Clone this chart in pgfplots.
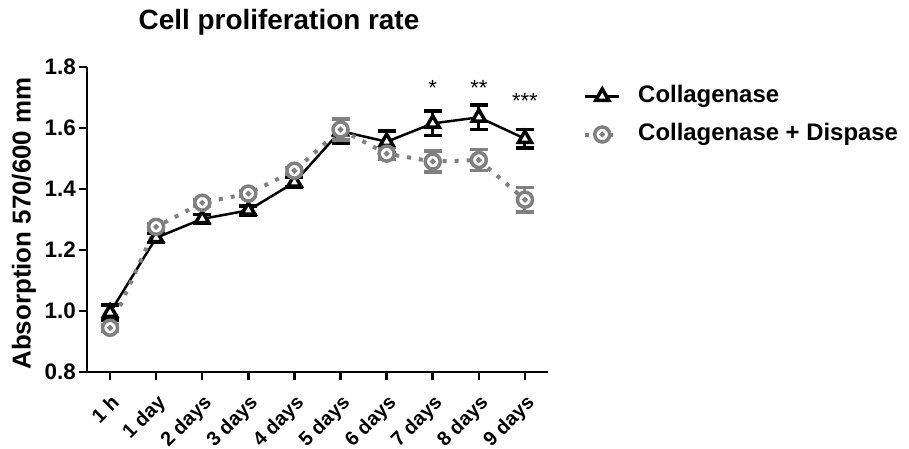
\documentclass[border=0pt]{standalone}
\usepackage{fontspec}
\setmainfont{Liberation Sans}
\usepackage{pgfplots}
\usepackage{pgfplotstable}
\pgfplotsset{compat=1.18}
\definecolor{cdgray}{RGB}{128,128,128}

\pgfdeclareplotmark{ringdot}{%
  \pgfpathcircle{\pgfpointorigin}{\pgfplotmarksize}%
  \pgfusepathqfillstroke
  \pgfpathcircle{\pgfpointorigin}{0.7bp}%
  \pgfusepathqstroke
}

\pgfplotstableread{
x y e
0 0.995 0.025
1 1.240 0.015
2 1.302 0.015
3 1.330 0.015
4 1.422 0.015
5 1.590 0.040
6 1.555 0.035
7 1.615 0.040
8 1.635 0.040
9 1.565 0.030
}\collag

\pgfplotstableread{
x y e
0 0.945 0.010
1 1.276 0.010
2 1.355 0.010
3 1.385 0.010
4 1.460 0.010
5 1.595 0.035
6 1.516 0.020
7 1.490 0.035
8 1.495 0.035
9 1.365 0.040
}\dispase

\pgfplotstableread{
x y lab
7 1.705 *
8 1.708 **
9 1.665 ***
}\stars

\begin{document}
\begin{tikzpicture}
\useasboundingbox (0,0) rectangle (909bp,-449bp);
\node[font=\fontsize{28}{32}\selectfont\bfseries] at (279bp,-22bp) {Cell proliferation rate};
\begin{axis}[
  at={(87bp,-372bp)}, anchor=south west,
  scale only axis, width=461bp, height=305bp,
  xmin=-0.5, xmax=9.5, ymin=0.8, ymax=1.8,
  clip=false,
  axis x line*=bottom, axis y line*=left,
  axis line style={line width=2.5bp, -},
  tick style={line width=2.5bp, black},
  major tick length=8bp, tick align=outside,
  xtick={0,...,9},
  xticklabels={1 h,1 day,2 days,3 days,4 days,5 days,6 days,7 days,8 days,9 days},
  xticklabel style={yshift=-12bp, rotate=45, anchor=north east, font=\fontsize{20}{23}\selectfont\bfseries, inner sep=1bp},
  ytick={0.8,1.0,1.2,1.4,1.6,1.8},
  yticklabel style={font=\fontsize{22.5}{26}\selectfont\bfseries, inner sep=2bp, xshift=-1bp},
  /pgf/number format/assume math mode=true,
  /pgf/number format/.cd, fixed, fixed zerofill, precision=1, /pgfplots/.cd,
  ylabel={Absorption 570/600 mm},
  ylabel style={at={(axis description cs:-0.137,0.487)}, anchor=center, font=\fontsize{26}{30}\selectfont\bfseries},
  legend style={draw=none, fill=none, at={(1.076,0.94)}, anchor=north west,
    font=\fontsize{24}{28}\selectfont\bfseries, inner sep=0pt, row sep=16bp,
    nodes={inner sep=0pt, text height=17bp, text depth=5bp},
    /tikz/every odd column/.append style={column sep=17bp}},
  legend cell align=left,
  legend image code/.code={\draw[#1, mark repeat=2, mark phase=2] plot coordinates {(0bp,0bp) (17bp,0bp) (34bp,0bp)};},
]
\addplot[black, line width=2.5bp, mark=triangle*, mark size=7.5bp,
  mark options={solid, fill=white, line width=3.5bp},
  error bars/.cd, y dir=both, y explicit,
  error bar style={line width=3bp, black, solid},
  error mark options={rotate=90, mark size=9bp, line width=3.5bp, black, solid}]
  table[x=x, y=y, y error=e] {\collag};
\addlegendentry{Collagenase}
\addplot[cdgray, line width=4bp, dash pattern=on 4bp off 8bp, mark=ringdot, mark size=7.5bp,
  mark options={solid, fill=white, line width=3.5bp},
  error bars/.cd, y dir=both, y explicit,
  error bar style={line width=3bp, cdgray, solid},
  error mark options={rotate=90, mark size=9bp, line width=3.5bp, cdgray, solid}]
  table[x=x, y=y, y error=e] {\dispase};
\addlegendentry{Collagenase + Dispase}
\addplot[draw=none, mark=none, forget plot, nodes near coords, point meta=explicit symbolic,
  nodes near coords style={anchor=base, font=\fontsize{22}{26}\selectfont, text=black, inner sep=0pt}]
  table[x=x, y=y, meta=lab] {\stars};
\end{axis}
\end{tikzpicture}
\end{document}
